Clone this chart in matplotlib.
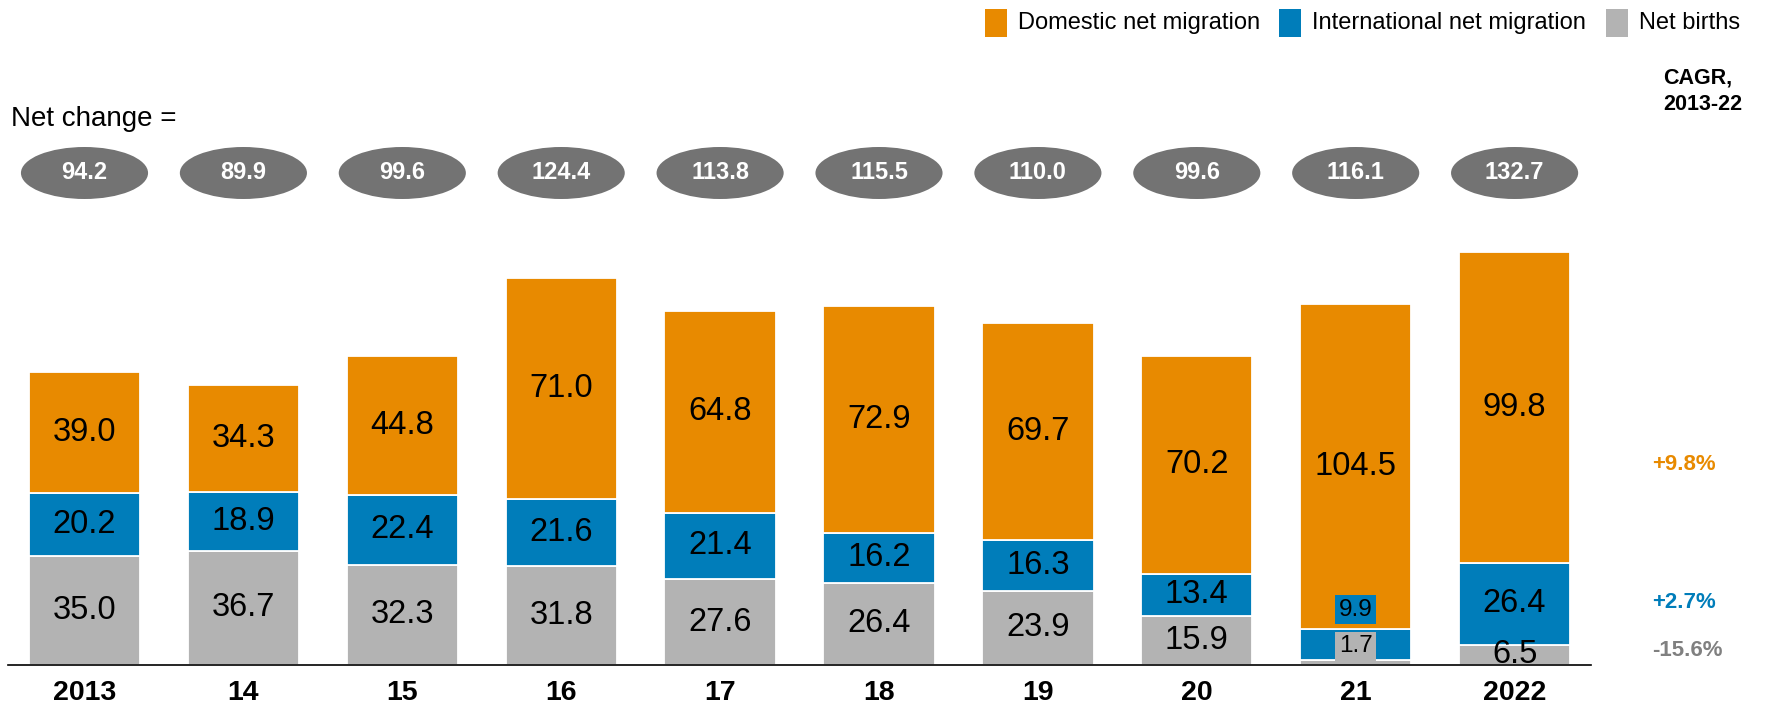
import numpy as np
import matplotlib
matplotlib.use('Agg')
import matplotlib.pyplot as plt
from matplotlib.patches import Ellipse, Rectangle

plt.rcParams['font.family'] = ['Liberation Sans', 'DejaVu Sans']

# ── data ──
years    = ['2013', '14', '15', '16', '17', '18', '19', '20', '21', '2022']
births   = [35.0, 36.7, 32.3, 31.8, 27.6, 26.4, 23.9, 15.9, 1.7, 6.5]
intl     = [20.2, 18.9, 22.4, 21.6, 21.4, 16.2, 16.3, 13.4, 9.9, 26.4]
domestic = [39.0, 34.3, 44.8, 71.0, 64.8, 72.9, 69.7, 70.2, 104.5, 99.8]
net_change = [94.2, 89.9, 99.6, 124.4, 113.8, 115.5, 110.0, 99.6, 116.1, 132.7]
cagr_labels = ['+9.8%', '+2.7%', '-15.6%']

ORANGE = '#E88A00'
BLUE   = '#007DBA'
GREY   = '#B3B3B3'
DARK   = '#737373'

W, H = 1767, 707
fig = plt.figure(figsize=(W / 100, H / 100), dpi=100)
fig.patch.set_facecolor('white')

# axes placed in pixel terms: baseline at y=665 px, axis from x=8 to 1591
PX_PER_UNIT = 3.11
ax = fig.add_axes([8 / W, 42 / H, (1591 - 8) / W, 665 / H])
x = np.arange(len(years))
ax.set_xlim((8 - 84.5) / 158.9, (1591 - 84.5) / 158.9)
ax.set_ylim(0, 665 / PX_PER_UNIT)

births_a = np.array(births)
intl_a = np.array(intl)
dom_a = np.array(domestic)

bw = 0.70
bar_kw = dict(width=bw, edgecolor='white', linewidth=1.3, zorder=2)
ax.bar(x, births_a, color=GREY, **bar_kw)
ax.bar(x, intl_a, bottom=births_a, color=BLUE, **bar_kw)
ax.bar(x, dom_a, bottom=births_a + intl_a, color=ORANGE, **bar_kw)

# ── segment labels ──
lab_kw = dict(ha='center', va='center', fontsize=23.5, color='black', zorder=3)
small_kw = dict(ha='center', va='center', fontsize=17.5, color='black', zorder=4)
for i in range(len(years)):
    b, n, d = births_a[i], intl_a[i], dom_a[i]
    ax.text(x[i], b + n + d / 2, f'{d:.1f}', **lab_kw)
    if years[i] == '21':
        # thin segments: labels pushed up with coloured boxes
        ax.text(x[i], b + n + 6.2, f'{n:.1f}', **small_kw,
                bbox=dict(boxstyle='square,pad=0.15', fc=BLUE, ec='none'))
        ax.text(x[i], b + n / 2 - 0.6, f'{b:.1f}', **small_kw,
                bbox=dict(boxstyle='square,pad=0.15', fc=GREY, ec='none'))
    else:
        ax.text(x[i], b + n / 2, f'{n:.1f}', **lab_kw)
        ax.text(x[i], b / 2, f'{b:.1f}', **lab_kw)

# ── net change ellipses ──
ELL_Y = (665 - 173) / PX_PER_UNIT
for i, v in enumerate(net_change):
    e = Ellipse((x[i], ELL_Y), 0.80, 52 / PX_PER_UNIT, facecolor=DARK,
                edgecolor='none', clip_on=False, zorder=3)
    ax.add_patch(e)
    ax.text(x[i], ELL_Y, f'{v:.1f}', ha='center', va='center',
            fontsize=17, fontweight='bold', color='white', zorder=4)

fig.text(11 / W, 1 - 119 / H, 'Net change =', fontsize=20, ha='left',
         va='center', color='black')

# ── axes styling ──
for s in ['top', 'right', 'left']:
    ax.spines[s].set_visible(False)
ax.spines['bottom'].set_color('black')
ax.spines['bottom'].set_linewidth(1.2)
ax.spines['bottom'].set_zorder(5)
ax.set_yticks([])
ax.set_xticks(x)
ax.set_xticklabels(years, fontsize=20.5, fontweight='bold')
ax.tick_params(axis='x', length=0, pad=11)
ax.set_facecolor('none')

# ── legend ──
leg_items = [('Domestic net migration', ORANGE, 985),
             ('International net migration', BLUE, 1279),
             ('Net births', GREY, 1606)]
for lab, col, px in leg_items:
    fig.add_artist(Rectangle((px / W, 1 - 37 / H), 22 / W, 28 / H,
                             transform=fig.transFigure, facecolor=col,
                             edgecolor='none'))
    fig.text((px + 33) / W, 1 - 23 / H, lab, fontsize=17, ha='left',
             va='center', color='black')

# ── CAGR column ──
fig.text(1663 / W, 1 - 78 / H, 'CAGR,', fontsize=15.5, fontweight='bold',
         ha='left', va='center')
fig.text(1663 / W, 1 - 105 / H, '2013-22', fontsize=15.5, fontweight='bold',
         ha='left', va='center')
for lab, col, py in zip(cagr_labels, [ORANGE, BLUE, '#808080'], [464, 603, 651]):
    fig.text(1652 / W, 1 - py / H, lab, fontsize=16, fontweight='bold',
             color=col, ha='left', va='center')

fig.savefig('out.png', dpi=100, facecolor='white')
